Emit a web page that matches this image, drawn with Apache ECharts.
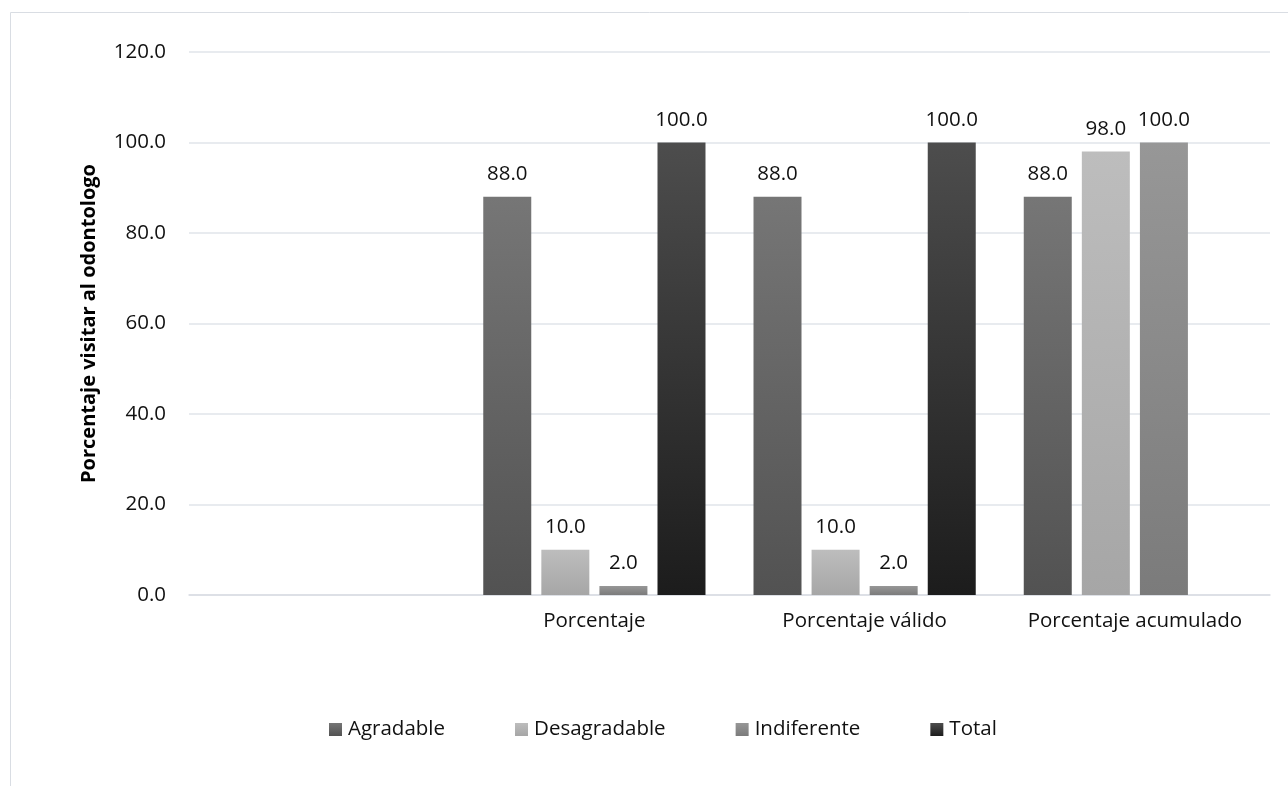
<!DOCTYPE html>
<html>
<head>
<meta charset="utf-8">
<script src="https://cdn.jsdelivr.net/npm/echarts@6/dist/echarts.min.js"></script>
<style>html,body{margin:0;padding:0;background:#fff}#c{width:1288px;height:786px}</style>
</head>
<body>
<div id="c"></div>
<script>
const categories = ['', 'Porcentaje', 'Porcentaje válido', 'Porcentaje acumulado'];
const agradable = [null, 88.0, 88.0, 88.0];
const desagradable = [null, 10.0, 10.0, 98.0];
const indiferente = [null, 2.0, 2.0, 100.0];
const total = [null, 100.0, 100.0, null];
const seriesNames = ['Agradable', 'Desagradable', 'Indiferente', 'Total'];
const yTicks = { min: 0, max: 120, interval: 20 };

const grads = [
  ['#767676', '#525252'],
  ['#bdbdbd', '#a6a6a6'],
  ['#979797', '#7b7b7b'],
  ['#4d4d4d', '#1c1c1c']
];
function grad(c) {
  return new echarts.graphic.LinearGradient(0, 0, 0, 1, [{offset: 0, color: c[0]}, {offset: 1, color: c[1]}]);
}
const font = '"Open Sans", "Noto Sans", sans-serif';
const fs = 20.5;
const dataArr = [agradable, desagradable, indiferente, total];
const chart = echarts.init(document.getElementById('c'));
chart.setOption({
  animation: false,
  textStyle: { fontFamily: font },
  graphic: [{
    type: 'rect', shape: { x: 10.5, y: 12.5, width: 1300, height: 800 },
    style: { fill: 'none', stroke: '#d9dde3', lineWidth: 1 }, silent: true, z: -10
  }],
  grid: { left: 189, right: 18, top: 52, bottom: 191 },
  legend: {
    data: seriesNames, top: 714, left: 324,
    itemWidth: 13, itemHeight: 13, itemGap: 70,
    icon: 'rect',
    textStyle: { fontSize: fs, color: '#111', fontFamily: font, padding: [0, 0, 0, 1] }
  },
  xAxis: {
    type: 'category', data: categories,
    axisLine: { lineStyle: { color: '#d9dde3', width: 1.5 } },
    axisTick: { show: false },
    axisLabel: { fontSize: fs, color: '#111', margin: 16, interval: 0 }
  },
  yAxis: {
    type: 'value', min: yTicks.min, max: yTicks.max, interval: yTicks.interval,
    name: 'Porcentaje visitar al odontologo', nameLocation: 'middle', nameGap: 90,
    nameTextStyle: { fontSize: 20, fontWeight: 'bold', color: '#000' },
    axisLabel: { fontSize: fs, color: '#111', margin: 23, formatter: v => v.toFixed(1) },
    splitLine: { lineStyle: { color: '#e1e4ea', width: 1.5 } },
    axisLine: { show: false }, axisTick: { show: false }
  },
  series: seriesNames.map((n, i) => ({
    name: n, type: 'bar', data: dataArr[i],
    barWidth: 48, barGap: '21%',
    itemStyle: { color: grad(grads[i]) },
    label: {
      show: true, position: 'top', distance: 12, fontSize: fs, color: '#111',
      formatter: p => p.value == null ? '' : Number(p.value).toFixed(1)
    }
  }))
});
</script>
</body>
</html>
